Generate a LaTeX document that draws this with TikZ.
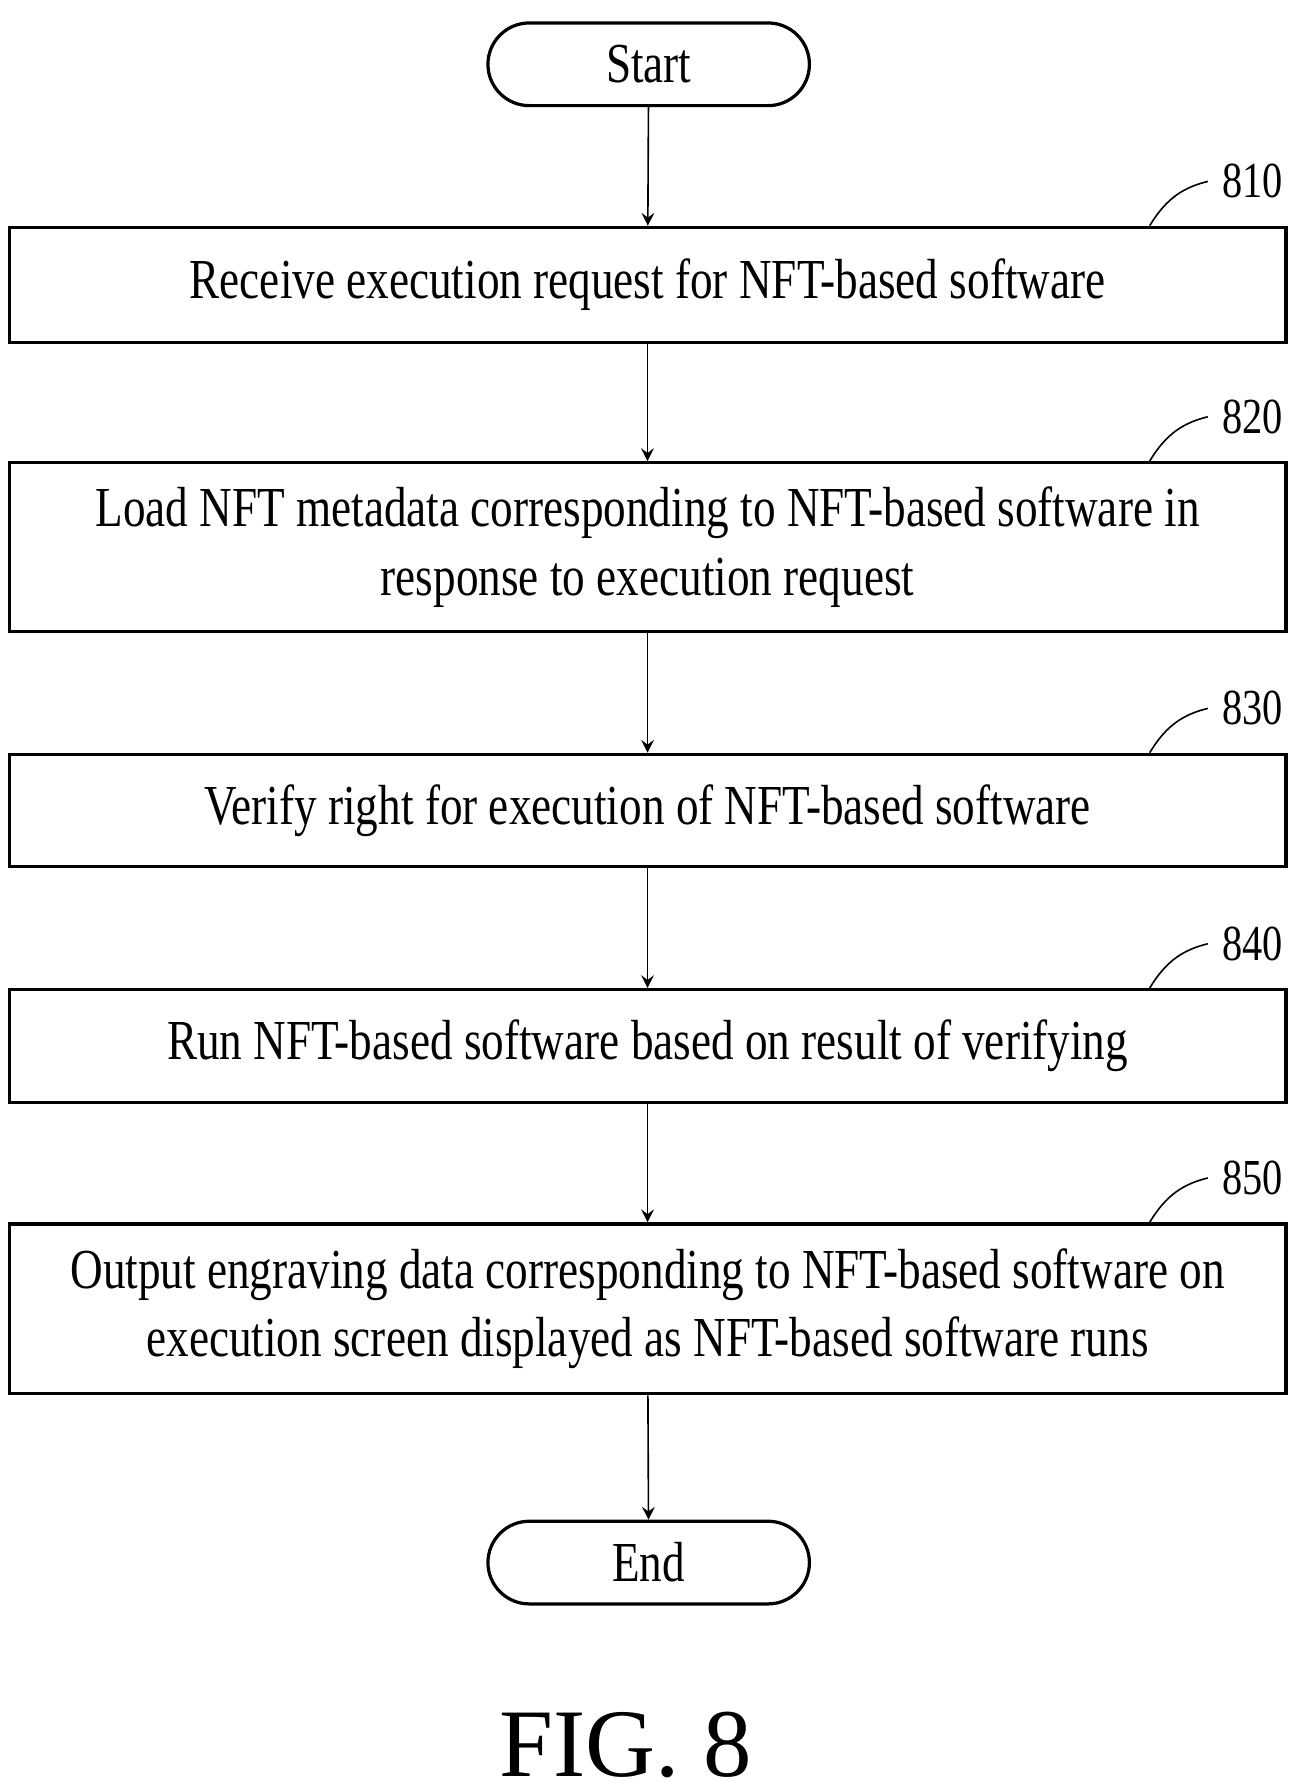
\documentclass[tikz,border=0pt]{standalone}
\usepackage{fontspec}
\setmainfont{Liberation Serif}[FakeStretch=0.8]
\newfontfamily\capfont{Liberation Serif}
\usetikzlibrary{shapes,arrows,positioning}
\tikzset{
  stepbox/.style={draw, thick, minimum width=11.12cm, align=center, font=\fontsize{14}{17}\selectfont},
  term/.style={draw, thick, rounded corners=0.36cm, minimum width=2.8cm, minimum height=0.72cm, font=\fontsize{14}{17}\selectfont},
  flow/.style={->, >=stealth},
  lbl/.style={font=\fontsize{12.5}{15}\selectfont}
}
\begin{document}
\begin{tikzpicture}[y=-1cm]
    \useasboundingbox (0,0) rectangle (11.3,15.53);
    % Terminals
    \node[term] (start) at (5.65,0.56) {Start};
    \node[term] (end) at (5.65,13.61) {End};

    % Steps
    \node[stepbox, minimum height=1.0cm] (s810) at (5.64,2.48) {Receive execution request for NFT-based software};
    \node[stepbox, minimum height=1.47cm] (s820) at (5.64,4.765) {Load NFT metadata corresponding to NFT-based software in\\response to execution request};
    \node[stepbox, minimum height=0.98cm] (s830) at (5.64,7.06) {Verify right for execution of NFT-based software};
    \node[stepbox, minimum height=0.98cm] (s840) at (5.64,9.11) {Run NFT-based software based on result of verifying};
    \node[stepbox, minimum height=1.48cm] (s850) at (5.64,11.4) {Output engraving data corresponding to NFT-based software on\\execution screen displayed as NFT-based software runs};

    % Arrows
    \draw[flow] (start) -- (s810);
    \draw[flow] (s810) -- (s820);
    \draw[flow] (s820) -- (s830);
    \draw[flow] (s830) -- (s840);
    \draw[flow] (s840) -- (s850);
    \draw[flow] (s850) -- (end);

    % Reference labels
    \foreach \n/\y in {810/1.58, 820/3.63, 830/6.17, 840/8.22, 850/10.26} {
        \node[lbl, anchor=west] (l\n) at (10.52,\y) {\n};
        \draw (s\n.north east) ++(-1.2,0) .. controls +(0.15,-0.25) and +(-0.2,0.05) .. (l\n.west);
    }

    % Caption
    \node[font=\capfont\fontsize{24}{28}\selectfont] (cap) at (5.45,15.2) {FIG. 8};
\end{tikzpicture}
\end{document}
